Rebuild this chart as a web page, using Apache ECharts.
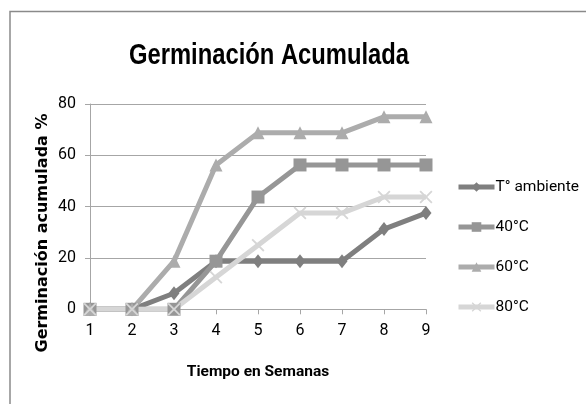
<!DOCTYPE html>
<html>
<head>
<meta charset="utf-8">
<script src="https://cdn.jsdelivr.net/npm/echarts@6/dist/echarts.min.js"></script>
<style>
html,body{margin:0;padding:0;background:#fff;}
#c{width:586px;height:404px;}
</style>
</head>
<body>
<div id="c"></div>
<script>
const weeks = ['1','2','3','4','5','6','7','8','9'];
const tAmbiente = [0, 0, 6.25, 18.75, 18.75, 18.75, 18.75, 31.25, 37.5];
const c40 = [0, 0, 0, 18.75, 43.75, 56.25, 56.25, 56.25, 56.25];
const c60 = [0, 0, 18.75, 56.25, 68.75, 68.75, 68.75, 75, 75];
const c80 = [0, 0, 0, 12.5, 25, 37.5, 37.5, 43.75, 43.75];
const yTicks = [0, 20, 40, 60, 80];

const narrow = "Roboto, 'Liberation Sans', sans-serif";
const xPath = 'path://M0,1L1,0L5,4L9,0L10,1L6,5L10,9L9,10L5,6L1,10L0,9L4,5Z';

const chart = echarts.init(document.getElementById('c'));
function mk(name, data, color, symbol, size) {
  return {
    name, type: 'line', data, symbol, symbolSize: size,
    lineStyle: {color, width: 5},
    itemStyle: {color},
    emphasis: {disabled: true},
    animation: false
  };
}
chart.setOption({
  animation: false,
  graphic: [{
    type: 'polyline',
    shape: {points: [[10, 404], [10, 11.5], [586, 11.5]]},
    style: {stroke: '#8a8a8a', lineWidth: 1.5, fill: null},
    silent: true
  }, {
    type: 'text', x: 269, y: 56, scaleX: 0.82, silent: true,
    style: {text: 'Germinación Acumulada', fill: '#000',
      font: "bold 29px 'Liberation Sans', sans-serif",
      textAlign: 'center', textVerticalAlign: 'middle'}
  }, {
    type: 'text', x: 43, y: 233, rotation: Math.PI / 2, silent: true,
    style: {text: 'Germinación acumulada %', fill: '#000',
      font: "bold 16px 'DejaVu Sans', sans-serif",
      textAlign: 'center', textVerticalAlign: 'middle'}
  }],
  legend: {
    orient: 'vertical',
    left: 456, top: 179, padding: 0,
    itemWidth: 36, itemHeight: 12,
    itemGap: 24,
    data: ['T° ambiente', '40°C', '60°C', '80°C'],
    lineStyle: {width: 5},
    textStyle: {fontFamily: narrow, fontSize: 15.5, color: '#000', padding: [0, 0, 0, -4]}
  },
  grid: {left: 90, right: 160, top: 104, bottom: 94.7},
  xAxis: {
    type: 'category', data: weeks, boundaryGap: false,
    name: 'Tiempo en Semanas', nameLocation: 'middle', nameGap: 55,
    nameTextStyle: {fontFamily: narrow, fontWeight: 'bold', fontSize: 15.5, color: '#000'},
    axisLine: {lineStyle: {color: '#a6a6a6', width: 1}},
    axisTick: {alignWithLabel: true, length: 5, lineStyle: {color: '#a6a6a6'}},
    axisLabel: {fontFamily: narrow, fontSize: 16, color: '#000', margin: 14},
    splitLine: {show: false}
  },
  yAxis: {
    type: 'value', min: 0, max: 80, interval: 20,
    axisLine: {show: true, lineStyle: {color: '#a6a6a6', width: 1}},
    axisTick: {show: true, length: 5, lineStyle: {color: '#a6a6a6'}},
    axisLabel: {fontFamily: narrow, fontSize: 16, color: '#000', margin: 14,
      formatter: v => yTicks.includes(v) ? String(v) : ''},
    splitLine: {lineStyle: {color: '#a6a6a6', width: 1}}
  },
  series: [
    mk('T° ambiente', tAmbiente, '#7f7f7f', 'diamond', [11, 14]),
    mk('40°C', c40, '#969696', 'rect', 13),
    mk('60°C', c60, '#acacac', 'triangle', 13),
    mk('80°C', c80, '#d6d6d6', xPath, 13)
  ]
});
</script>
</body>
</html>
